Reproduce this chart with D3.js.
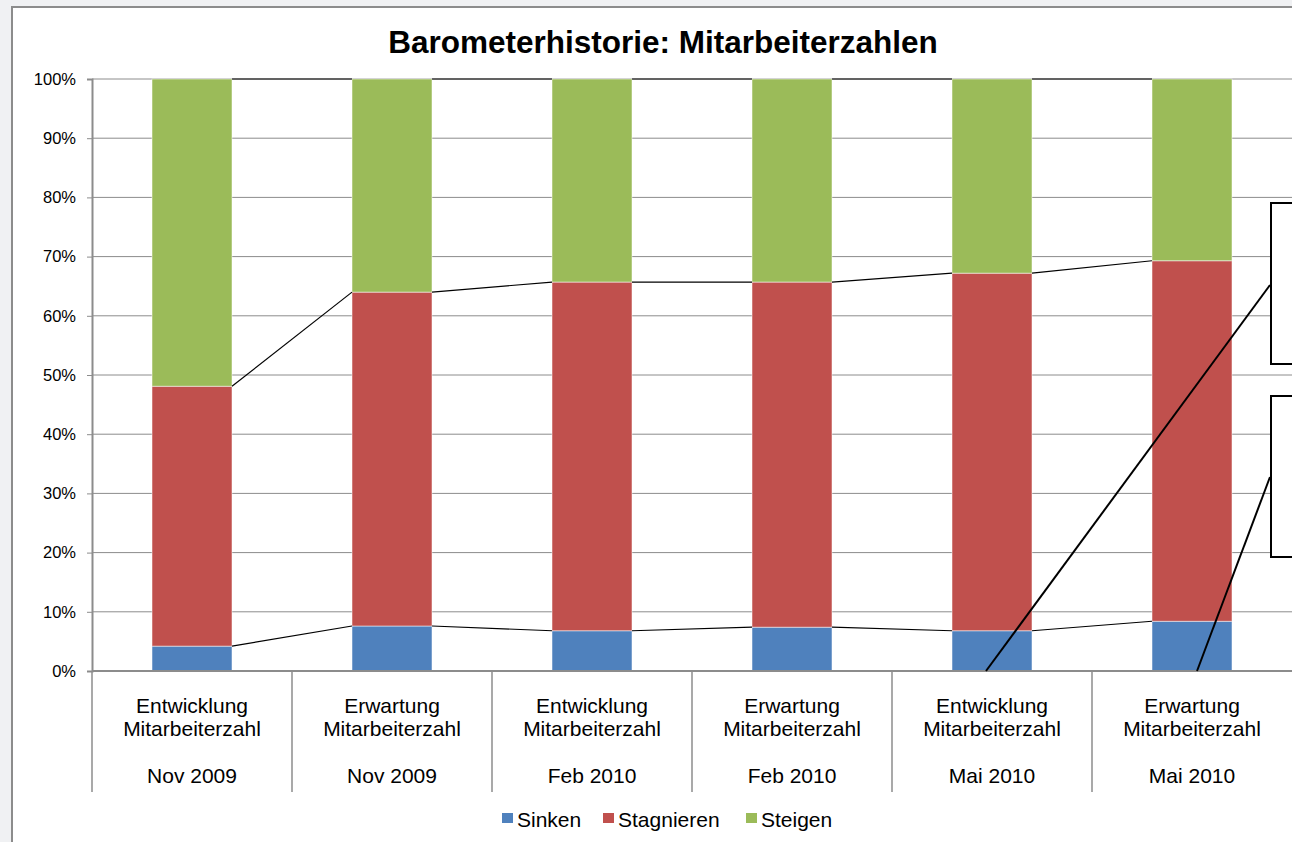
<!DOCTYPE html>
<html>
<head>
<meta charset="utf-8">
<script src="https://cdn.jsdelivr.net/npm/d3@7"></script>
<style>
  body { margin: 0; background: #f0f1f3; }
  svg { display: block; font-family: "Liberation Sans", Arial, sans-serif; }
</style>
</head>
<body>
<div id="chart"></div>
<script>
// data (percent)
var kinds = ["Entwicklung", "Erwartung", "Entwicklung", "Erwartung", "Entwicklung", "Erwartung"];
var periods = ["Nov 2009", "Nov 2009", "Feb 2010", "Feb 2010", "Mai 2010", "Mai 2010"];
var seriesNames = ["Sinken", "Stagnieren", "Steigen"];
var sinken = [4.2, 7.6, 6.8, 7.4, 6.8, 8.4];
var stagnieren = [43.9, 56.4, 58.9, 58.3, 60.4, 60.9];
var steigen = [51.9, 36.0, 34.3, 34.3, 32.8, 30.7];
var yTicks = [0, 10, 20, 30, 40, 50, 60, 70, 80, 90, 100];
var colors = ["#4f81bd", "#c0504d", "#9bbb59"];

var width = 1292, height = 842;
var margin = {left: 92, top: 79, right: 0, bottom: 171};

var svg = d3.select("#chart").append("svg")
    .attr("width", width)
    .attr("height", height);

// chart area frame
svg.append("rect")
    .attr("x", 12).attr("y", 7)
    .attr("width", width + 20).attr("height", height + 20)
    .attr("fill", "white")
    .attr("stroke", "#8c8c8c")
    .attr("stroke-width", 2);

svg.append("text")
    .attr("x", 663).attr("y", 53)
    .attr("text-anchor", "middle")
    .style("font-size", "31.5px")
    .style("font-weight", "bold")
    .text("Barometerhistorie: Mitarbeiterzahlen");

var idx = d3.range(kinds.length);
var x = d3.scaleBand()
    .domain(idx)
    .range([margin.left, margin.left + 200 * idx.length])
    .paddingInner(0.6)
    .paddingOuter(0.3);

var y = d3.scaleLinear()
    .domain([0, 100])
    .range([671, 79]);

var table = idx.map(function(i) {
  return {i: i, Sinken: sinken[i], Stagnieren: stagnieren[i], Steigen: steigen[i]};
});
var stacked = d3.stack().keys(seriesNames)(table);

// gridlines
svg.append("g")
    .selectAll("line")
    .data(yTicks.slice(1))
    .enter().append("line")
    .attr("x1", margin.left).attr("x2", width)
    .attr("y1", function(d) { return y(d); })
    .attr("y2", function(d) { return y(d); })
    .attr("stroke", "#8c8c8c")
    .attr("stroke-width", 1);

// y axis
var yAxis = svg.append("g")
    .attr("transform", "translate(" + margin.left + ",0)")
    .call(d3.axisLeft(y).tickValues(yTicks).tickSize(5).tickPadding(11)
      .tickFormat(function(d) { return d + "%"; }));
yAxis.select(".domain").attr("stroke", "#8c8c8c").attr("stroke-width", 2);
yAxis.selectAll(".tick line").attr("stroke", "#8c8c8c");
yAxis.selectAll("text").style("font-size", "16.5px").attr("fill", "black")
    .attr("font-family", null);

// bars
svg.append("g").selectAll("g")
    .data(stacked)
    .enter().append("g")
    .attr("fill", function(d, k) { return colors[k]; })
    .selectAll("rect")
    .data(function(d) { return d; })
    .enter().append("rect")
    .attr("x", function(d) { return x(d.data.i); })
    .attr("width", x.bandwidth())
    .attr("y", function(d) { return y(d[1]); })
    .attr("height", function(d) { return y(d[0]) - y(d[1]); })
    .attr("stroke", "white")
    .attr("stroke-opacity", 0.5)
    .attr("stroke-width", 1);

// series lines between bars
stacked.forEach(function(s) {
  for (var i = 0; i < s.length - 1; i++) {
    svg.append("line")
        .attr("x1", x(i) + x.bandwidth()).attr("y1", y(s[i][1]))
        .attr("x2", x(i + 1)).attr("y2", y(s[i + 1][1]))
        .attr("stroke", "black")
        .attr("stroke-width", 1.2);
  }
});

// category axis
svg.append("line")
    .attr("x1", margin.left).attr("x2", width)
    .attr("y1", y(0)).attr("y2", y(0))
    .attr("stroke", "#8c8c8c").attr("stroke-width", 2);

svg.append("g").selectAll("line")
    .data(idx)
    .enter().append("line")
    .attr("x1", function(i) { return x(i) - x.step() * 0.3; })
    .attr("x2", function(i) { return x(i) - x.step() * 0.3; })
    .attr("y1", y(0)).attr("y2", 792)
    .attr("stroke", "#8c8c8c").attr("stroke-width", 1.5);

var labels = svg.append("g").selectAll("text")
    .data(idx)
    .enter().append("text")
    .attr("text-anchor", "middle")
    .style("font-size", "21px");
labels.append("tspan")
    .attr("x", function(i) { return x(i) + x.bandwidth() / 2; })
    .attr("y", 713)
    .text(function(i) { return kinds[i]; });
labels.append("tspan")
    .attr("x", function(i) { return x(i) + x.bandwidth() / 2; })
    .attr("y", 736)
    .text("Mitarbeiterzahl");
labels.append("tspan")
    .attr("x", function(i) { return x(i) + x.bandwidth() / 2; })
    .attr("y", 783)
    .text(function(i) { return periods[i]; });

// callout boxes on the right (clipped)
svg.append("rect").attr("x", 1271).attr("y", 203).attr("width", 40).attr("height", 161)
    .attr("fill", "white").attr("stroke", "black").attr("stroke-width", 2);
svg.append("rect").attr("x", 1271).attr("y", 396).attr("width", 40).attr("height", 161)
    .attr("fill", "white").attr("stroke", "black").attr("stroke-width", 2);
svg.append("line").attr("x1", 986).attr("y1", y(0)).attr("x2", 1270).attr("y2", 285)
    .attr("stroke", "black").attr("stroke-width", 2);
svg.append("line").attr("x1", 1197).attr("y1", y(0)).attr("x2", 1270).attr("y2", 477)
    .attr("stroke", "black").attr("stroke-width", 2);

// legend
var legendX = [502, 603, 746];
var legend = svg.append("g").selectAll("g")
    .data(seriesNames)
    .enter().append("g")
    .attr("transform", function(d, k) { return "translate(" + legendX[k] + ",813)"; });
legend.append("rect")
    .attr("width", 11).attr("height", 10)
    .attr("fill", function(d, k) { return colors[k]; });
legend.append("text")
    .attr("x", 15).attr("y", 14)
    .style("font-size", "21px")
    .text(function(d) { return d; });
</script>
</body>
</html>
